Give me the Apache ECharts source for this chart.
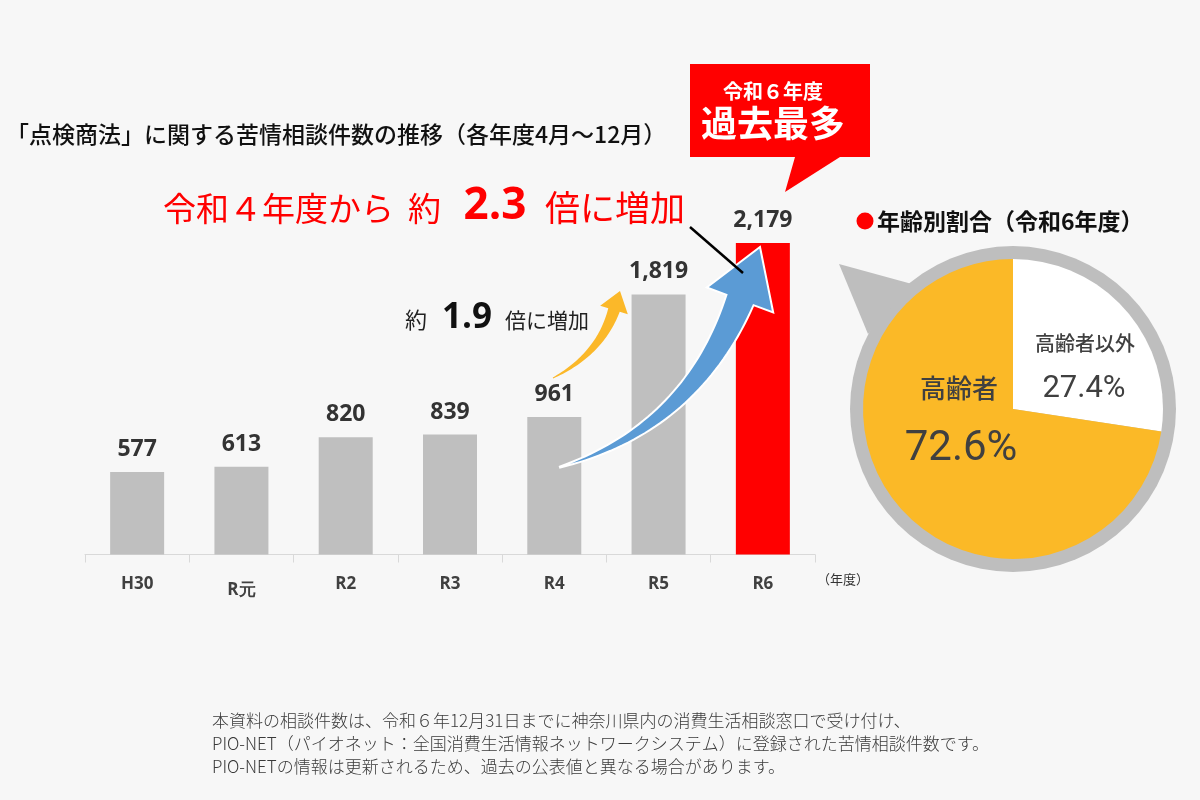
<!DOCTYPE html>
<html><head><meta charset="utf-8">
<script src="https://cdn.jsdelivr.net/npm/echarts@6/dist/echarts.min.js"></script>
<style>html,body{margin:0;padding:0;background:#f7f7f7;}#c{width:1200px;height:800px;}</style>
</head><body><div id="c"></div>
<script>
// ---- data ----
const categories = ['H30', 'R元', 'R2', 'R3', 'R4', 'R5', 'R6'];
const counts = [577, 613, 820, 839, 961, 1819, 2179];
const highlightCategory = 'R6';
const pieNames = ['高齢者以外', '高齢者'];
const pieValues = [27.4, 72.6];
const titleText = '「点検商法」に関する苦情相談件数の推移（各年度4月～12月）';
const pieTitleText = '年齢別割合（令和6年度）';
const footnotes = [
  '本資料の相談件数は、令和６年12月31日までに神奈川県内の消費生活相談窓口で受け付け、',
  'PIO-NET（パイオネット：全国消費生活情報ネットワークシステム）に登録された苦情相談件数です。',
  'PIO-NETの情報は更新されるため、過去の公表値と異なる場合があります。'
];

const JP = '"Noto Sans CJK JP", sans-serif';
const NUM = '"Open Sans", "Noto Sans", sans-serif';
const GRAY = '#bfbfbf', RED = '#ff0000', ORANGE = '#fbb927', TXT = '#333333';

const chart = echarts.init(document.getElementById('c'), null, {renderer: 'canvas'});

// tapered curved arrow polygon from quadratic bezier
function arrowPoly(P0, C, E, tip, w0, w1, headW) {
  const N = 40, left = [], right = [];
  for (let i = 0; i <= N; i++) {
    const t = i / N;
    const x = (1-t)*(1-t)*P0[0] + 2*t*(1-t)*C[0] + t*t*E[0];
    const y = (1-t)*(1-t)*P0[1] + 2*t*(1-t)*C[1] + t*t*E[1];
    const dx = 2*(1-t)*(C[0]-P0[0]) + 2*t*(E[0]-C[0]);
    const dy = 2*(1-t)*(C[1]-P0[1]) + 2*t*(E[1]-C[1]);
    const L = Math.hypot(dx, dy); const nx = -dy/L, ny = dx/L;
    const w = (w0 + (w1-w0)*t) / 2;
    left.push([x + nx*w, y + ny*w]); right.push([x - nx*w, y - ny*w]);
  }
  const dx = tip[0]-E[0], dy = tip[1]-E[1], L = Math.hypot(dx, dy);
  const nx = -dy/L, ny = dx/L;
  const pts = left.slice();
  pts.push([E[0] + nx*headW/2, E[1] + ny*headW/2]);
  pts.push(tip);
  pts.push([E[0] - nx*headW/2, E[1] - ny*headW/2]);
  return pts.concat(right.reverse());
}

function txt(x, y, text, size, opts) {
  opts = opts || {};
  return {type: 'text', z: 20, style: Object.assign({
    x: x, y: y, text: text, fontSize: size, fontFamily: opts.family || JP,
    fontWeight: opts.weight || 'normal', fill: opts.fill || TXT,
    align: opts.align || 'left', textAlign: opts.align || 'left',
    verticalAlign: 'middle', textVerticalAlign: 'middle'
  }, opts.extra || {})};
}

const pieCenter = [1013, 409], pieR = 150;

const graphics = [
  // pie ring + pointer
  {type: 'circle', z: 0, shape: {cx: pieCenter[0], cy: pieCenter[1], r: 163}, style: {fill: '#bebebe'}},
  {type: 'polygon', z: 0, shape: {points: [[839, 264], [912, 284], [868, 334]]}, style: {fill: '#bebebe'}},
  // red callout
  {type: 'polygon', z: 5, shape: {points: [[690, 64], [870, 64], [870, 157], [840, 157], [785, 192], [795, 157], [690, 157]]}, style: {fill: RED}},
  txt(773, 91, '令和６年度', 20, {weight: 'bold', fill: '#fff', align: 'center'}),
  txt(773, 123, '過去最多', 36, {weight: 'bold', fill: '#fff', align: 'center'}),
  // titles
  txt(6, 134, titleText, 23, {fill: '#111', weight: 500}),
  {type: 'circle', z: 20, shape: {cx: 865, cy: 221, r: 8.5}, style: {fill: RED}},
  txt(877, 221, pieTitleText, 23, {weight: 'bold', fill: '#111'}),
  // red sentence
  txt(163, 208, '令和４年度から', 33, {fill: RED}),
  txt(408, 208, '約', 33, {fill: RED}),
  txt(495, 206, '2.3', 44, {fill: RED, weight: 'bold', family: NUM, align: 'center'}),
  txt(545, 208, '倍に増加', 35, {fill: RED}),
  // 1.9 sentence
  txt(405, 320, '約', 22, {fill: '#222'}),
  txt(467, 318, '1.9', 35, {fill: '#111', weight: 'bold', family: NUM, align: 'center'}),
  txt(505, 320, '倍に増加', 21, {fill: '#222'}),
  // arrows
  {type: 'polygon', z: 10, shape: {points: arrowPoly([553, 378], [600, 354], [614, 310], [620, 291], 1, 12, 29)}, style: {fill: '#fbb829'}},
  {type: 'polygon', z: 11, shape: {points: arrowPoly([560, 467], [691, 428], [740, 300], [760, 247], 1, 29, 71)}, style: {fill: '#5b9bd5', stroke: '#ffffff', lineWidth: 2}},
  {type: 'line', z: 12, shape: {x1: 690, y1: 227, x2: 743, y2: 273}, style: {stroke: '#000', lineWidth: 2.5}},
  // axis unit
  txt(817, 579, '（年度）', 13, {fill: '#333'}),
  // pie labels
  txt(1085, 343, pieNames[0], 20, {fill: '#404040', align: 'center', weight: 500}),
  txt(1084, 389, pieValues[0].toFixed(1) + '%', 31, {fill: '#404040', align: 'center', family: '"Roboto", sans-serif'}),
  txt(959, 388, pieNames[1], 26, {fill: '#404040', align: 'center', weight: 500}),
  txt(961, 449, pieValues[1].toFixed(1) + '%', 42, {fill: '#404040', align: 'center', family: '"Roboto", sans-serif'})
];
footnotes.forEach((s, i) => graphics.push(txt(212, 721 + i * 23, s, 17, {fill: '#3a3a3a', weight: 300})));

chart.setOption({
  backgroundColor: '#f7f7f7',
  animation: false,
  grid: {left: 85, right: 385, top: 197, bottom: 245.5, containLabel: false},
  xAxis: {
    type: 'category',
    data: categories.map(c => c === 'R元' ? {value: c, textStyle: {padding: [6, 0, 0, 0]}} : c),
    axisLine: {lineStyle: {color: '#d9d9d9', width: 1}},
    axisTick: {show: true, length: 8, lineStyle: {color: '#d9d9d9'}},
    axisLabel: {color: '#404040', fontSize: 17, fontWeight: 'bold', fontFamily: NUM, margin: 21}
  },
  yAxis: {type: 'value', min: 0, max: 2500, show: false, splitLine: {show: false}},
  series: [
    {
      type: 'bar', barWidth: 54,
      data: counts.map((v, i) => ({value: v, itemStyle: {color: categories[i] === highlightCategory ? RED : GRAY}})),
      label: {
        show: true, position: 'top', distance: 11,
        formatter: p => p.value.toLocaleString('en-US'),
        fontFamily: NUM, fontWeight: 'bold', fontSize: 23, color: TXT
      }
    },
    {
      type: 'pie', z: 2, center: pieCenter, radius: [0, pieR], startAngle: 90, clockwise: true,
      label: {show: false}, labelLine: {show: false}, silent: true,
      data: pieNames.map((n, i) => ({name: n, value: pieValues[i], itemStyle: {color: i === 0 ? '#ffffff' : ORANGE}}))
    }
  ],
  graphic: graphics
});
</script>
</body></html>
